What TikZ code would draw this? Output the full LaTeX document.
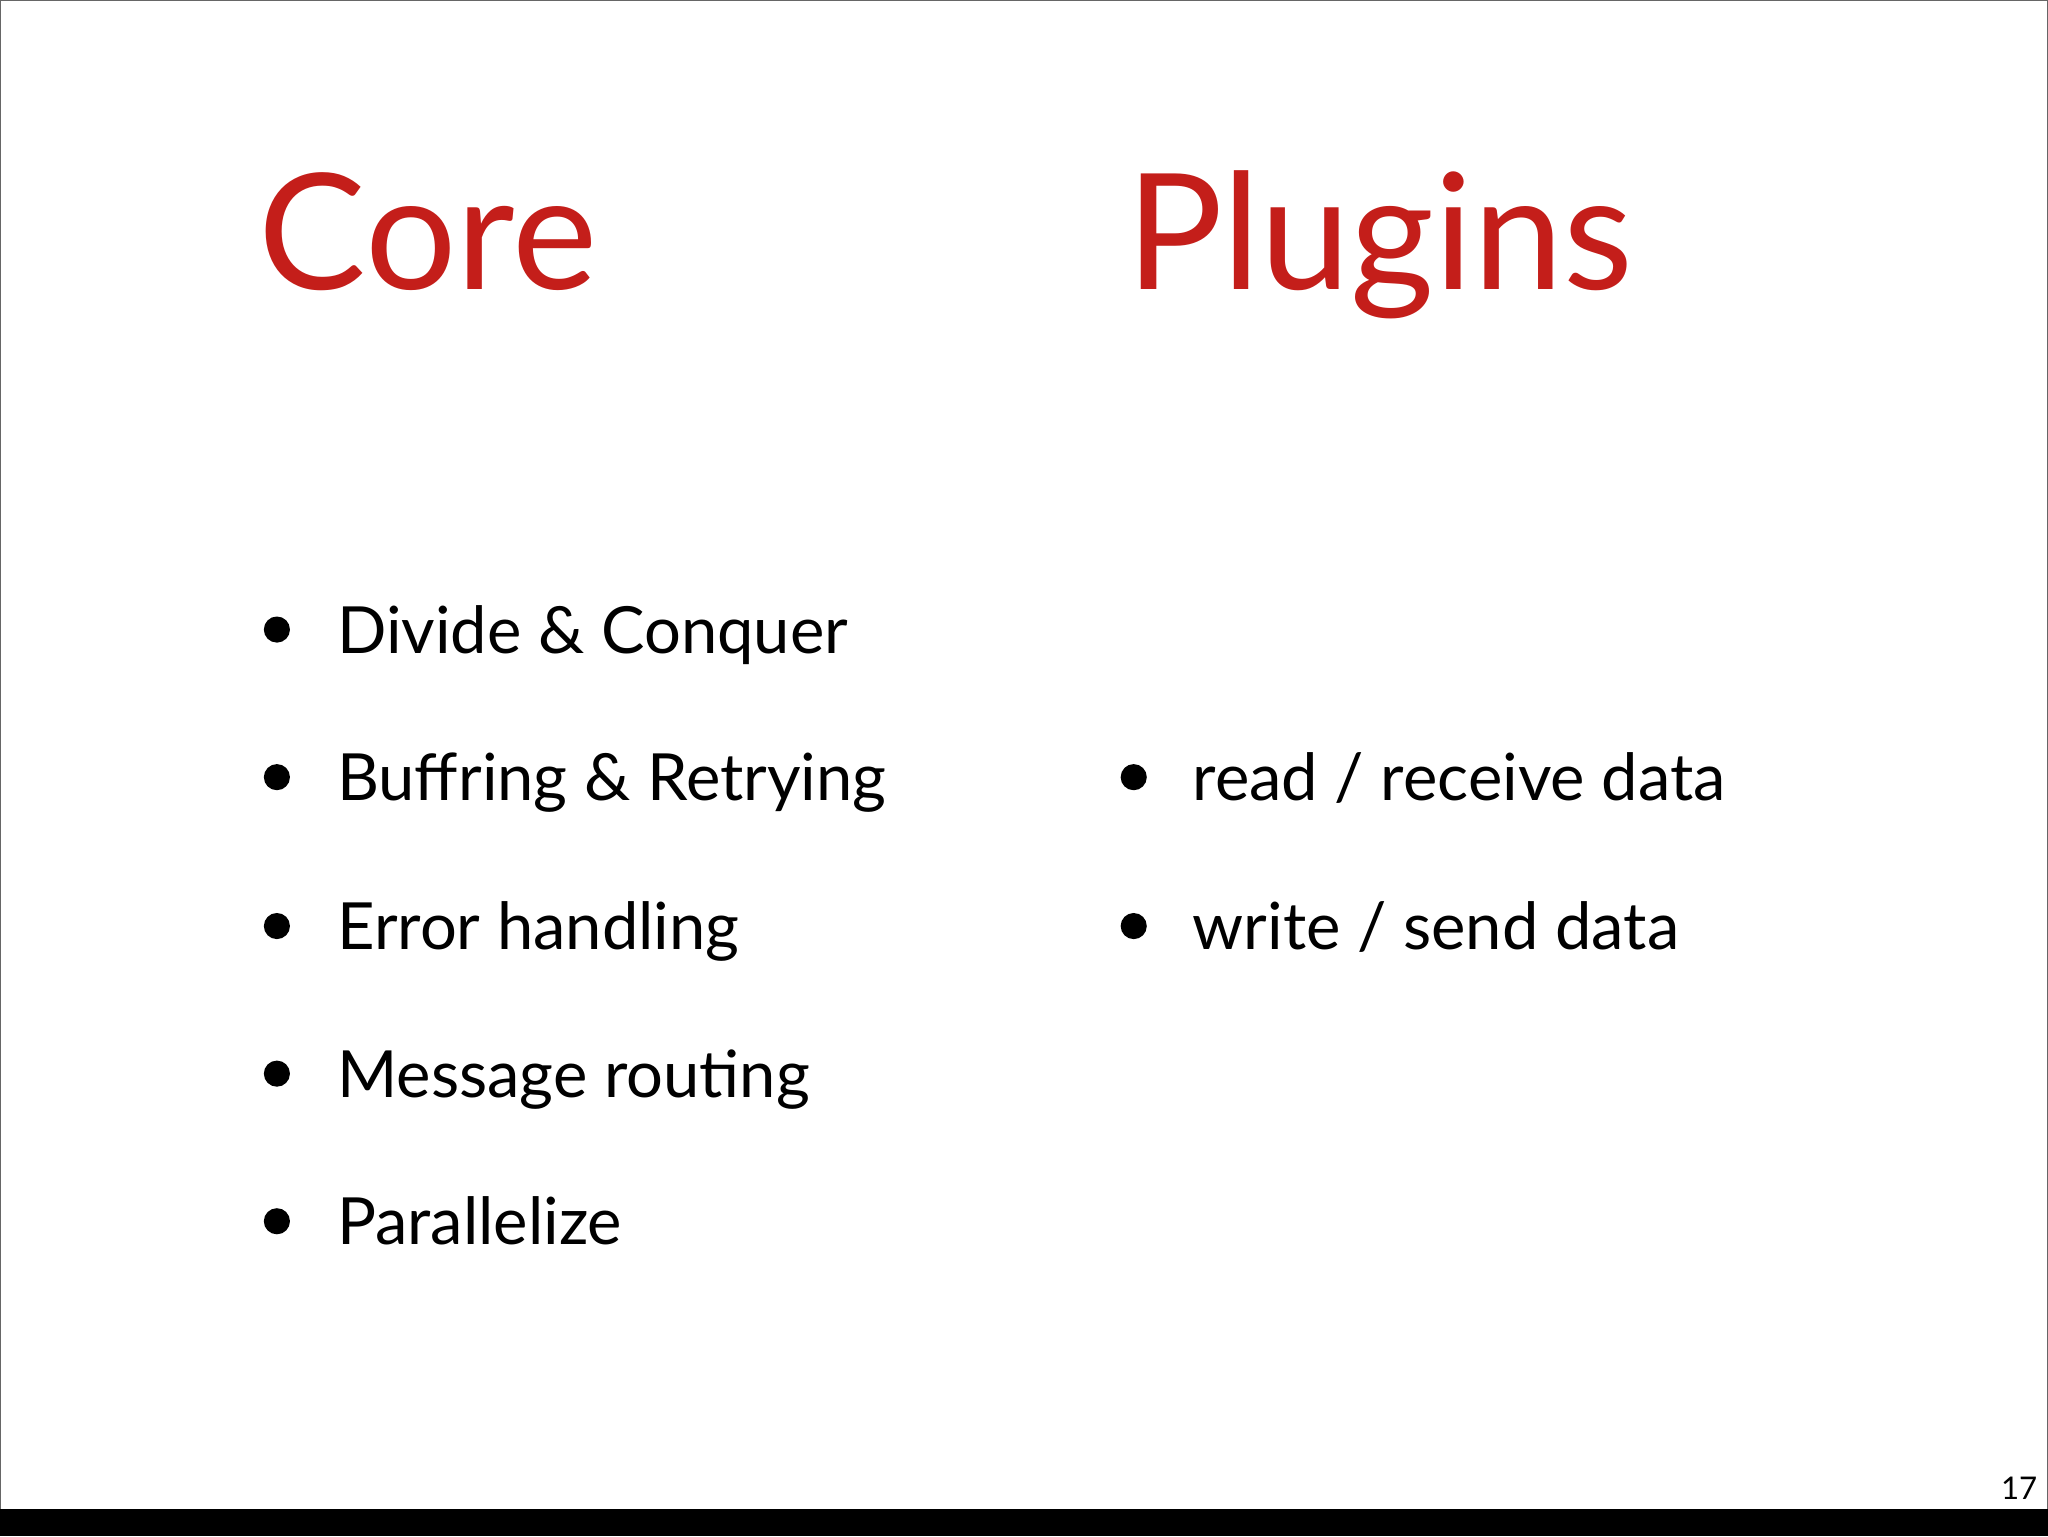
\documentclass[tikz,border=0pt]{standalone}
\usepackage{fontspec}
\setmainfont{Lato}
\definecolor{titlered}{HTML}{C41E1A}
\begin{document}
\begin{tikzpicture}[x=1bp,y=-1bp,
  title/.style={anchor=base west,inner sep=0pt,font=\fontsize{124}{124}\selectfont,text=titlered},
  item/.style={anchor=base west,inner sep=0pt,font=\fontsize{50}{50}\selectfont},
  dot/.style={circle,fill=black,inner sep=0pt,minimum size=20bp}]
\useasboundingbox (0,0) rectangle (1568,1176);
\draw[black!60,line width=1bp] (0.5,0.5) rectangle (1567.5,1175);
\fill[black] (0,1155) rectangle (1568,1176);
\node[title] (core) at (198,222) {Core};
\node[title] (plugins) at (862,222) {Plugins};
\foreach \t/\y [count=\i] in {Divide \& Conquer/500,Buffring \& Retrying/613,Error handling/727,Message routing/840,Parallelize/953}{
  \node[dot] (d\i) at (212,\y-18) {};
  \node[item] (t\i) at (258,\y) {\t};
}
\node[dot] (r1) at (868,595) {};
\node[item] (rt1) at (913,613) {read / receive data};
\node[dot] (r2) at (868,709) {};
\node[item] (rt2) at (913,727) {write / send data};
\node[anchor=base east,inner sep=0pt,font=\fontsize{24}{24}\selectfont] (num) at (1560,1148) {17};
\end{tikzpicture}
\end{document}
